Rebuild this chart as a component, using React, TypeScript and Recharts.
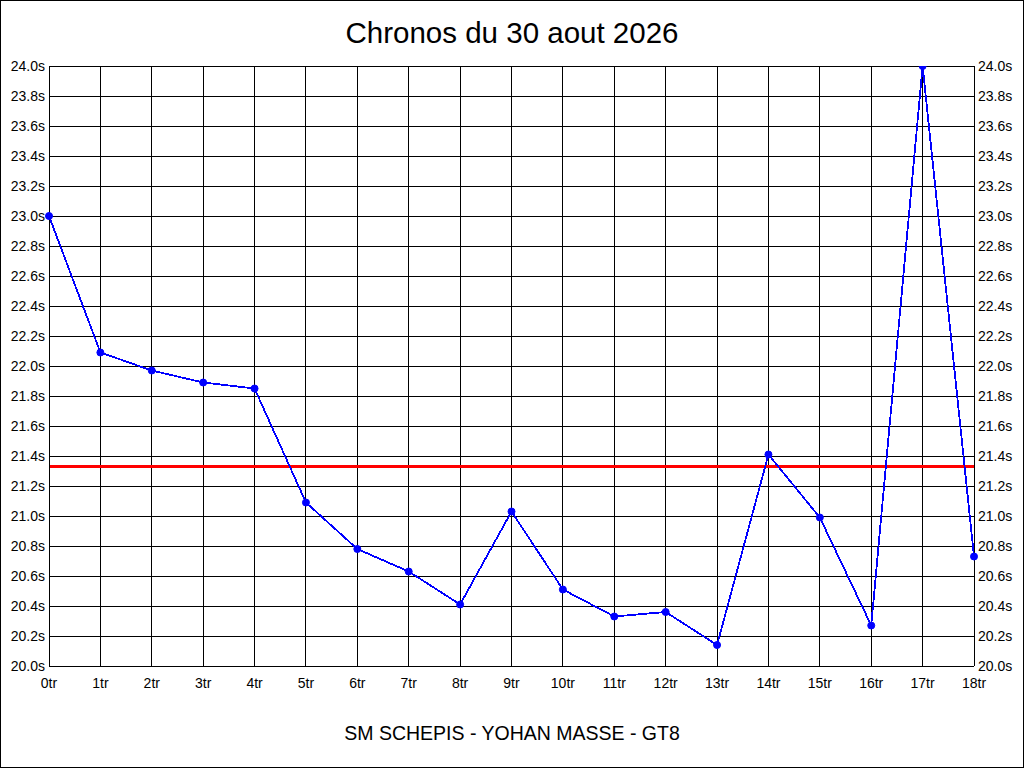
import React from 'react';
import { LineChart, Line, XAxis, YAxis, CartesianGrid, ReferenceLine } from 'recharts';

const laps = ['0tr','1tr','2tr','3tr','4tr','5tr','6tr','7tr','8tr','9tr','10tr','11tr','12tr','13tr','14tr','15tr','16tr','17tr','18tr'];
const times = [23.0, 22.09, 21.97, 21.89, 21.85, 21.09, 20.78, 20.63, 20.41, 21.03, 20.51, 20.33, 20.36, 20.14, 21.41, 20.99, 20.27, 24.0, 20.73];
const yTicks = [20.0,20.2,20.4,20.6,20.8,21.0,21.2,21.4,21.6,21.8,22.0,22.2,22.4,22.6,22.8,23.0,23.2,23.4,23.6,23.8,24.0];
const referenceTime = 21.33;
const title = 'Chronos du 30 aout 2026';
const subtitle = 'SM SCHEPIS - YOHAN MASSE - GT8';

const data = laps.map((lap, i) => ({ lap, time: times[i] }));

const FONT = '"Liberation Sans", Arial, sans-serif';
const fmt = (v: number) => `${v.toFixed(1)}s`;

export default function App() {
  return (
    <div style={{ position: 'absolute', left: 0, top: 0, width: 1024, height: 768, boxSizing: 'border-box', border: '1px solid #000', background: '#fff', fontFamily: FONT }}>
      <div style={{ position: 'absolute', left: 0, top: 14, width: 1022, textAlign: 'center', fontSize: 29.5, lineHeight: '36px', color: '#000' }}>{title}</div>
      <div style={{ position: 'absolute', left: 0, top: 720, width: 1022, textAlign: 'center', fontSize: 19.5, lineHeight: '24px', color: '#000' }}>{subtitle}</div>
      <div style={{ position: 'absolute', left: -1, top: -1 }}>
        <LineChart width={1024} height={768} data={data} margin={{ top: 66, right: 4, bottom: 72, left: 4 }} style={{ shapeRendering: 'crispEdges' }}>
          <CartesianGrid yAxisId="left" stroke="#000" strokeWidth={1} strokeDasharray="" />
          <XAxis dataKey="lap" axisLine={{ stroke: '#000' }} tickLine={false} tickSize={6} tickMargin={6} height={30} interval={0}
            tick={{ fill: '#000', fontSize: 14, fontFamily: FONT }} />
          <YAxis yAxisId="left" domain={[20, 24]} ticks={yTicks} tickFormatter={fmt} width={45} axisLine={{ stroke: '#000' }} tickLine={false}
            tickSize={2} tickMargin={2} interval={0} allowDataOverflow tick={{ fill: '#000', fontSize: 14, fontFamily: FONT }} />
          <YAxis yAxisId="right" orientation="right" domain={[20, 24]} ticks={yTicks} tickFormatter={fmt} width={46} axisLine={{ stroke: '#000' }} tickLine={false}
            tickSize={2} tickMargin={2} interval={0} allowDataOverflow tick={{ fill: '#000', fontSize: 14, fontFamily: FONT, textAnchor: 'start' }} />
          <ReferenceLine yAxisId="left" y={referenceTime} stroke="#ff0000" strokeWidth={3.5} />
          <Line yAxisId="left" type="linear" dataKey="time" stroke="#0000ff" strokeWidth={1.8} isAnimationActive={false}
            dot={{ r: 3.5, fill: '#0000ff', stroke: '#0000ff', strokeWidth: 1, shapeRendering: 'geometricPrecision' } as any} activeDot={false} />
        </LineChart>
      </div>
    </div>
  );
}
